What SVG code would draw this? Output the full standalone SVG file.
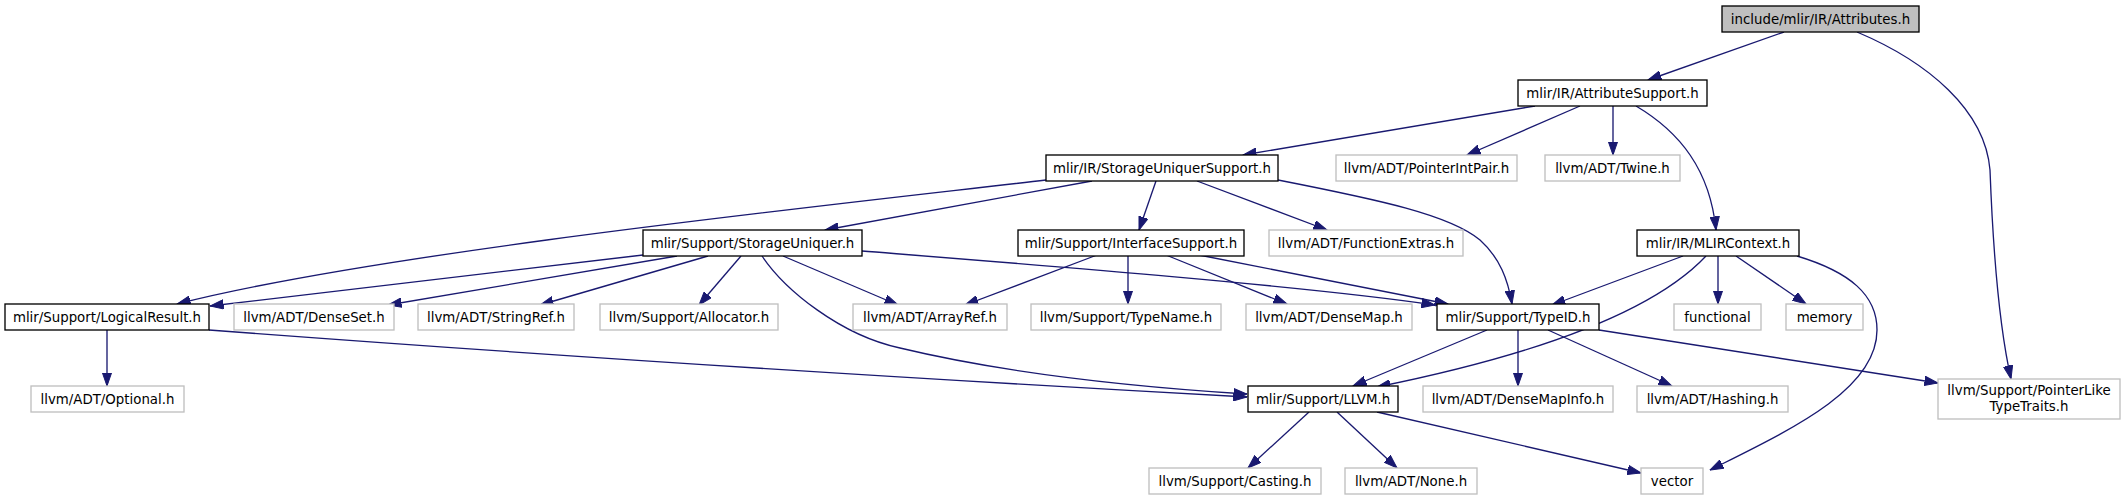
<svg xmlns="http://www.w3.org/2000/svg" width="2127" height="500" viewBox="0 0 2127 500">
<defs>
<marker id="ah" markerUnits="userSpaceOnUse" markerWidth="14" markerHeight="10" viewBox="0 0 14 10" refX="13.5" refY="5" orient="auto">
<path d="M0,0.3 L13.5,5 L0,9.7 z" fill="#191970" stroke="#191970" stroke-width="1"/>
</marker>
</defs>
<style>
.n rect{fill:#fff;stroke:#000;stroke-width:1.33}
.g rect{fill:#fff;stroke:#bfbfbf;stroke-width:1.33}
.r rect{fill:#bfbfbf;stroke:#000;stroke-width:1.33}
text{font-family:"DejaVu Sans","Liberation Sans",sans-serif;font-size:13.33px;text-anchor:middle;fill:#000}
#edges path{fill:none;stroke:#191970;stroke-width:1.33;marker-end:url(#ah)}
</style>
<rect width="2127" height="500" fill="#fff"/>
<g id="edges">
<path d="M1784,32 L1648,80"/>
<path d="M1857,32 C1928,62 1985,110 1990,170 C1993,250 2000,330 2011,379"/>
<path d="M1535,106 L1243,155"/>
<path d="M1580,106 L1467,155"/>
<path d="M1613,106 L1613,155"/>
<path d="M1636,106 C1680,132 1710,170 1716,230"/>
<path d="M1092,181 L825,230"/>
<path d="M1046,180 C850,203 380,252 177,304"/>
<path d="M1156,181 L1139,230"/>
<path d="M1197,181 L1327,230"/>
<path d="M1278,180 C1380,200 1450,215 1480,240 C1500,258 1508,280 1512,304"/>
<path d="M643,255 L210,306"/>
<path d="M677,256 L388,305"/>
<path d="M708,256 L540,305"/>
<path d="M741,256 L699,305"/>
<path d="M762,256 C785,290 840,335 900,348 C1000,372 1120,386 1247,394"/>
<path d="M783,256 L898,305"/>
<path d="M862,251 C1000,262 1300,285 1435,305"/>
<path d="M1097,255 L965,305"/>
<path d="M1128,255 L1128,304"/>
<path d="M1166,255 L1287,304"/>
<path d="M1199,255 L1448,304"/>
<path d="M1683,256 L1552,305"/>
<path d="M1706,256 C1660,305 1560,350 1377,387"/>
<path d="M1718,256 L1718,304"/>
<path d="M1736,256 L1806,304"/>
<path d="M1797,256 C1850,272 1877,295 1877,330 C1877,390 1790,430 1710,470"/>
<path d="M107,330 L107,386"/>
<path d="M209,330 C500,352 900,378 1247,397"/>
<path d="M1487,330 L1353,386"/>
<path d="M1518,330 L1518,386"/>
<path d="M1548,330 L1672,386"/>
<path d="M1599,330 L1938,383"/>
<path d="M1309,412 L1248,468"/>
<path d="M1337,412 L1397,468"/>
<path d="M1377,412 L1641,473"/>
</g>
<g id="n1" class="r"><rect x="1722" y="6" width="197" height="26"/><text x="1820.5" y="23.5">include/mlir/IR/Attributes.h</text></g>
<g id="n2" class="n"><rect x="1518" y="80" width="189" height="26"/><text x="1612.5" y="97.5">mlir/IR/AttributeSupport.h</text></g>
<g id="n3" class="n"><rect x="1046" y="155" width="232" height="26"/><text x="1162" y="172.5">mlir/IR/StorageUniquerSupport.h</text></g>
<g id="n4" class="g"><rect x="1336" y="155" width="181" height="26"/><text x="1426.5" y="172.5">llvm/ADT/PointerIntPair.h</text></g>
<g id="n5" class="g"><rect x="1545" y="155" width="135" height="26"/><text x="1612.5" y="172.5">llvm/ADT/Twine.h</text></g>
<g id="n6" class="n"><rect x="643" y="230" width="219" height="26"/><text x="752.5" y="247.5">mlir/Support/StorageUniquer.h</text></g>
<g id="n7" class="n"><rect x="1018" y="230" width="226" height="26"/><text x="1131" y="247.5">mlir/Support/InterfaceSupport.h</text></g>
<g id="n8" class="g"><rect x="1269" y="230" width="194" height="26"/><text x="1366" y="247.5">llvm/ADT/FunctionExtras.h</text></g>
<g id="n9" class="n"><rect x="1637" y="230" width="162" height="26"/><text x="1718" y="247.5">mlir/IR/MLIRContext.h</text></g>
<g id="n10" class="n"><rect x="5" y="304" width="204" height="26"/><text x="107" y="321.5">mlir/Support/LogicalResult.h</text></g>
<g id="n11" class="g"><rect x="234" y="304" width="160" height="26"/><text x="314" y="321.5">llvm/ADT/DenseSet.h</text></g>
<g id="n12" class="g"><rect x="418" y="304" width="156" height="26"/><text x="496" y="321.5">llvm/ADT/StringRef.h</text></g>
<g id="n13" class="g"><rect x="600" y="304" width="178" height="26"/><text x="689" y="321.5">llvm/Support/Allocator.h</text></g>
<g id="n14" class="g"><rect x="853" y="304" width="154" height="26"/><text x="930" y="321.5">llvm/ADT/ArrayRef.h</text></g>
<g id="n15" class="g"><rect x="1031" y="304" width="190" height="26"/><text x="1126" y="321.5">llvm/Support/TypeName.h</text></g>
<g id="n16" class="g"><rect x="1246" y="304" width="166" height="26"/><text x="1329" y="321.5">llvm/ADT/DenseMap.h</text></g>
<g id="n17" class="n"><rect x="1437" y="304" width="162" height="26"/><text x="1518" y="321.5">mlir/Support/TypeID.h</text></g>
<g id="n18" class="g"><rect x="1674" y="304" width="87" height="26"/><text x="1717.5" y="321.5">functional</text></g>
<g id="n19" class="g"><rect x="1786" y="304" width="77" height="26"/><text x="1824.5" y="321.5">memory</text></g>
<g id="n20" class="g"><rect x="31" y="386" width="153" height="26"/><text x="107.5" y="403.5">llvm/ADT/Optional.h</text></g>
<g id="n21" class="n"><rect x="1248" y="386" width="150" height="26"/><text x="1323" y="403.5">mlir/Support/LLVM.h</text></g>
<g id="n22" class="g"><rect x="1423" y="386" width="190" height="26"/><text x="1518" y="403.5">llvm/ADT/DenseMapInfo.h</text></g>
<g id="n23" class="g"><rect x="1637" y="386" width="151" height="26"/><text x="1712.5" y="403.5">llvm/ADT/Hashing.h</text></g>
<g id="n24" class="g"><rect x="1938" y="379" width="182" height="40"/><text x="2029" y="395">llvm/Support/PointerLike</text><text x="2029" y="411">TypeTraits.h</text></g>
<g id="n25" class="g"><rect x="1149" y="468" width="172" height="26"/><text x="1235" y="485.5">llvm/Support/Casting.h</text></g>
<g id="n26" class="g"><rect x="1345" y="468" width="132" height="26"/><text x="1411" y="485.5">llvm/ADT/None.h</text></g>
<g id="n27" class="g"><rect x="1641" y="468" width="62" height="26"/><text x="1672" y="485.5">vector</text></g>
</svg>
